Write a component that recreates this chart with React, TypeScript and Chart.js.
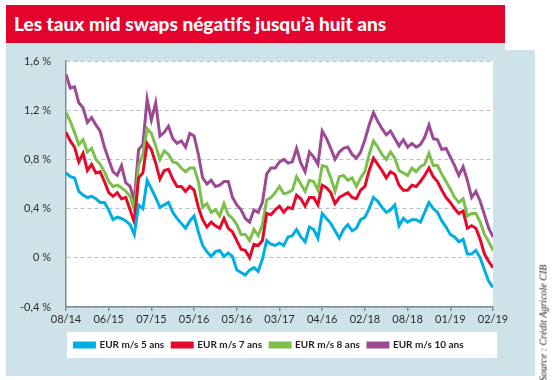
import React, { useEffect, useRef } from "react";
import { Chart, registerables } from "chart.js";

Chart.register(...registerables);

const titleText = "Les taux mid swaps négatifs jusqu’à huit ans";
const sourceText = "Source : Crédit Agricole CIB";

const xTickLabels = ["08/14", "06/15", "07/15", "05/16", "05/16", "03/17", "04/16", "02/18", "08/18", "01/19", "02/19"];
const seriesNames = ["EUR m/s 5 ans", "EUR m/s 7 ans", "EUR m/s 8 ans", "EUR m/s 10 ans"];
const seriesColors = ["#00aee4", "#e30a2a", "#7cc04b", "#9c4a94"];
const yTicks = [-0.4, 0, 0.4, 0.8, 1.2, 1.6];

const eur5 = [
  0.69, 0.66, 0.65, 0.54, 0.51, 0.49, 0.50, 0.48, 0.45, 0.45,
  0.39, 0.31, 0.33, 0.32, 0.30, 0.27, 0.19, 0.43, 0.40, 0.63,
  0.56, 0.49, 0.41, 0.43, 0.45, 0.37, 0.32, 0.28, 0.24, 0.30,
  0.34, 0.21, 0.10, 0.05, 0.01, 0.05, 0.06, 0.01, 0.04, 0.01,
  -0.10, -0.12, -0.14, -0.10, -0.08, -0.11, -0.01, 0.14, 0.11, 0.10,
  0.12, 0.10, 0.17, 0.18, 0.23, 0.17, 0.13, 0.25, 0.23, 0.16,
  0.36, 0.32, 0.28, 0.22, 0.16, 0.23, 0.27, 0.22, 0.24, 0.31,
  0.33, 0.40, 0.49, 0.46, 0.41, 0.37, 0.39, 0.43, 0.26, 0.32,
  0.29, 0.31, 0.31, 0.29, 0.37, 0.45, 0.40, 0.37, 0.30, 0.25,
  0.19, 0.17, 0.13, 0.15, 0.03, 0.03, 0.06, 0.00, -0.10, -0.19, -0.24,
];

const eur7 = [
  1.02, 0.95, 0.90, 0.78, 0.85, 0.71, 0.76, 0.69, 0.70, 0.62,
  0.53, 0.50, 0.53, 0.48, 0.49, 0.39, 0.29, 0.65, 0.69, 0.93,
  0.88, 0.77, 0.64, 0.71, 0.72, 0.64, 0.58, 0.58, 0.54, 0.58,
  0.55, 0.41, 0.31, 0.25, 0.29, 0.26, 0.24, 0.32, 0.24, 0.21,
  0.14, 0.07, 0.06, 0.00, 0.11, 0.10, 0.14, 0.36, 0.35, 0.39,
  0.42, 0.37, 0.41, 0.40, 0.51, 0.48, 0.42, 0.49, 0.49, 0.43,
  0.59, 0.57, 0.53, 0.44, 0.49, 0.51, 0.53, 0.49, 0.48, 0.55,
  0.58, 0.71, 0.81, 0.76, 0.71, 0.65, 0.70, 0.68, 0.59, 0.55,
  0.55, 0.59, 0.58, 0.62, 0.67, 0.73, 0.66, 0.62, 0.55, 0.49,
  0.45, 0.40, 0.36, 0.38, 0.24, 0.26, 0.24, 0.15, 0.03, -0.03, -0.08,
];

const eur8 = [
  1.18, 1.11, 1.02, 0.92, 0.96, 0.86, 0.89, 0.80, 0.76, 0.70,
  0.62, 0.58, 0.59, 0.57, 0.54, 0.50, 0.39, 0.75, 0.84, 1.05,
  1.01, 0.91, 0.80, 0.87, 0.84, 0.78, 0.77, 0.73, 0.70, 0.73,
  0.73, 0.62, 0.41, 0.44, 0.37, 0.39, 0.34, 0.44, 0.35, 0.32,
  0.27, 0.19, 0.19, 0.14, 0.23, 0.18, 0.27, 0.47, 0.49, 0.53,
  0.58, 0.52, 0.53, 0.55, 0.66, 0.60, 0.54, 0.63, 0.62, 0.55,
  0.75, 0.74, 0.65, 0.54, 0.66, 0.67, 0.63, 0.65, 0.58, 0.65,
  0.70, 0.84, 0.95, 0.90, 0.84, 0.80, 0.86, 0.81, 0.71, 0.69,
  0.67, 0.73, 0.70, 0.74, 0.76, 0.85, 0.75, 0.75, 0.68, 0.62,
  0.56, 0.49, 0.45, 0.48, 0.34, 0.36, 0.36, 0.29, 0.19, 0.13, 0.06,
];

const eur10 = [
  1.49, 1.38, 1.39, 1.26, 1.22, 1.10, 1.14, 1.08, 1.03, 0.90,
  0.80, 0.70, 0.67, 0.75, 0.61, 0.58, 0.47, 0.88, 0.92, 1.29,
  1.12, 1.26, 0.99, 1.02, 1.07, 0.97, 0.93, 0.95, 0.90, 1.01,
  0.99, 0.84, 0.65, 0.60, 0.63, 0.58, 0.59, 0.62, 0.62, 0.49,
  0.43, 0.39, 0.32, 0.29, 0.39, 0.37, 0.45, 0.68, 0.73, 0.73,
  0.78, 0.80, 0.77, 0.78, 0.89, 0.77, 0.70, 0.86, 0.82, 0.76,
  1.03, 0.97, 0.89, 0.80, 0.86, 0.89, 0.90, 0.84, 0.81, 0.86,
  0.96, 1.08, 1.18, 1.11, 1.05, 1.00, 1.03, 0.97, 0.91, 0.96,
  0.90, 0.93, 0.90, 0.92, 0.98, 1.08, 0.97, 0.96, 0.88, 0.89,
  0.82, 0.75, 0.67, 0.74, 0.63, 0.49, 0.54, 0.46, 0.35, 0.24, 0.17,
];

const seriesValues = [eur5, eur7, eur8, eur10];
// observation position along the time axis, in tick intervals (regular sampling)
const timePos = eur5.map((_, i) => i / 10);

const plotBackground = {
  id: "plotBackground",
  beforeDraw(chart: any) {
    const { ctx, chartArea } = chart;
    if (!chartArea) return;
    ctx.save();
    ctx.fillStyle = "#ffffff";
    ctx.fillRect(chartArea.left, chartArea.top, chartArea.right - chartArea.left, chartArea.bottom - chartArea.top);
    ctx.restore();
  },
};

// centre the legend row on the legend panel rather than on the whole canvas
const legendPlacement = {
  id: "legendPlacement",
  afterLayout(chart: any) {
    const lg = chart.legend;
    if (!lg) return;
    lg.left = 45;
    lg.right = 493;
    lg.width = 448;
  },
};

function formatPct(v: number) {
  const r = Math.round(v * 10) / 10;
  if (r === 0) return "0 %";
  return r.toFixed(1).replace(".", ",") + " %";
}

export default function App() {
  const canvasRef = useRef<HTMLCanvasElement | null>(null);

  useEffect(() => {
    if (!canvasRef.current) return;
    const font = "Lato";
    const axisColor = "#7d8c93";
    const chart = new Chart(canvasRef.current, {
      type: "line",
      data: {
        datasets: seriesNames.map((name, s) => ({
          label: name,
          data: seriesValues[s].map((v, i) => ({ x: timePos[i], y: v })),
          borderColor: seriesColors[s],
          backgroundColor: seriesColors[s],
          borderWidth: 3,
          pointRadius: 0,
          tension: 0,
          fill: false,
        })),
      },
      options: {
        animation: false,
        responsive: false,
        maintainAspectRatio: false,
        layout: { padding: { left: 10, right: 60, top: 61, bottom: 20 } },
        plugins: {
          tooltip: { enabled: false },
          legend: {
            position: "bottom",
            labels: {
              boxWidth: 20,
              boxHeight: 4,
              padding: 8,
              color: "#1e1e1e",
              font: { family: font, size: 10, weight: "bold" },
            },
          },
        },
        scales: {
          x: {
            type: "linear",
            min: 0,
            max: xTickLabels.length - 1,
            afterBuildTicks: (scale: any) => {
              scale.ticks = xTickLabels.map((_, i) => ({ value: i }));
            },
            afterFit: (scale: any) => {
              scale.height = 25;
            },
            ticks: {
              autoSkip: false,
              maxRotation: 0,
              padding: 2,
              color: "#2a2a2a",
              font: { family: font, size: 11 },
              callback: (value: any) => xTickLabels[Math.round(Number(value))] ?? "",
            },
            grid: {
              drawOnChartArea: false,
              drawTicks: true,
              tickLength: 4,
              color: axisColor,
              lineWidth: 1.5,
            },
            border: { display: true, color: axisColor, width: 1.5 },
          },
          y: {
            type: "linear",
            min: -0.4,
            max: 1.6,
            afterBuildTicks: (scale: any) => {
              scale.ticks = yTicks.map((v) => ({ value: v }));
            },
            afterFit: (scale: any) => {
              scale.width = 56;
            },
            ticks: {
              padding: 15,
              color: "#2a2a2a",
              font: { family: font, size: 11 },
              callback: (value: any) => formatPct(Number(value)),
            },
            grid: {
              drawTicks: false,
              color: "#b8c2c6",
              lineWidth: 1,
            },
            border: { display: true, color: axisColor, width: 1.5, dash: [4, 3] },
          },
        },
      } as any,
      plugins: [plotBackground, legendPlacement],
    });
    return () => chart.destroy();
  }, []);

  return (
    <div style={{ position: "absolute", left: 0, top: 0, width: 553, height: 380, background: "#ffffff", overflow: "hidden" }}>
      <div style={{ position: "absolute", left: 6, top: 43, width: 499, height: 8, background: "#cde3e9" }} />
      <div style={{ position: "absolute", left: 6, top: 50, width: 529, height: 326, background: "#cde3e9" }} />
      <div
        style={{
          position: "absolute",
          left: 6,
          top: 5,
          width: 499,
          height: 38,
          background: "#e4032c",
          color: "#ffffff",
          fontFamily: "Lato, sans-serif",
          fontWeight: 900,
          fontSize: 19,
          lineHeight: "38px",
          paddingLeft: 8,
          boxSizing: "border-box",
          whiteSpace: "nowrap",
        }}
      >
        {titleText}
      </div>
      <div style={{ position: "absolute", left: 67, top: 332, width: 430, height: 26, background: "#ffffff" }} />
      <canvas ref={canvasRef} width={553} height={380} style={{ position: "absolute", left: 0, top: 0, width: 553, height: 380 }} />
      <div
        style={{
          position: "absolute",
          left: 543,
          top: 323,
          transform: "translate(-50%, -50%) rotate(-90deg)",
          fontFamily: "'Liberation Serif', serif",
          fontStyle: "italic",
          fontSize: 10,
          color: "#222",
          whiteSpace: "nowrap",
        }}
      >
        {sourceText}
      </div>
    </div>
  );
}
